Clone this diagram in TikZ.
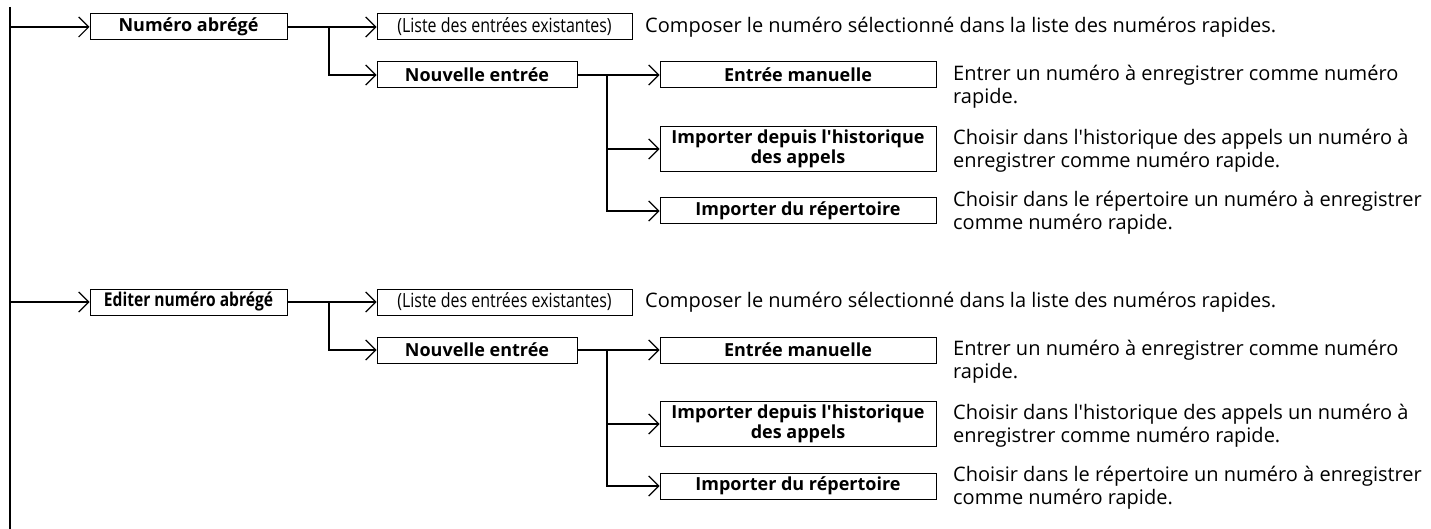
\documentclass[tikz,border=0pt]{standalone}
\usepackage{fontspec}
\setmainfont{Open Sans}
\newfontfamily\narrowfont[FakeStretch=0.82]{Open Sans}
\usetikzlibrary{arrows.meta}

\begin{document}
\begin{tikzpicture}[x=1pt, y=-1pt,
    box/.style={draw, line width=1pt, inner sep=0pt, minimum height=26pt,
                align=center, font=\fontsize{18}{20}\selectfont\bfseries},
    narrowbox/.style={box, font=\fontsize{19.5}{20}\selectfont\narrowfont},
    flow/.style={-{Straight Barb[length=10pt, width=20pt, line width=1.2pt]},
                 line width=1.8pt},
    spine/.style={line width=2.8pt},
    note/.style={anchor=west, align=left, inner sep=0pt,
                 font=\fontsize{20}{23}\selectfont},
]
    \useasboundingbox (0,0) rectangle (1431,529);

    % main line
    \coordinate (top) at (10,7);
    \coordinate (bot) at (10,529);
    \draw[spine] (top) -- (bot);

    % first menu
    \node[box, minimum width=197pt] (abr) at (188.5,27) {Numéro abrégé};
    \node[narrowbox, minimum width=255pt] (liste) at (504.5,27) {(Liste des entrées existantes)};
    \node[box, minimum width=200pt] (nouv) at (477,75) {Nouvelle entrée};
    \node[box, minimum width=276pt] (man) at (798,75) {Entrée manuelle};
    \node[box, minimum width=276pt, minimum height=45pt] (hist) at (798,149)
        {Importer depuis l\textquotesingle historique\\des appels};
    \node[box, minimum width=276pt] (rep) at (798,211) {Importer du répertoire};
    \coordinate (s1) at (329,27);
    \coordinate (s2) at (607,75);

    \draw[flow] (abr.west -| top) -- (abr);
    \draw[flow] (abr) -- (liste);
    \draw[flow] (s1) |- (nouv);
    \draw[flow] (nouv) -- (man);
    \draw[flow] (s2) |- (hist);
    \draw[flow] (s2) |- (rep);

    \node[note] (dliste) at (645,27) {Composer le numéro sélectionné dans la liste des numéros rapides.};
    \node[note] (dman) at (953,87) {Entrer un numéro à enregistrer comme numéro\\rapide.};
    \node[note] (dhist) at (953,151) {Choisir dans l\textquotesingle historique des appels un numéro à\\enregistrer comme numéro rapide.};
    \node[note] (drep) at (953,213) {Choisir dans le répertoire un numéro à enregistrer\\comme numéro rapide.};

    % second menu
    \node[box, font=\fontsize{19}{20}\selectfont\narrowfont\bfseries, minimum width=197pt]
        (edit) at (188.5,302) {Editer numéro abrégé};
    \node[narrowbox, minimum width=255pt] (liste2) at (504.5,302) {(Liste des entrées existantes)};
    \node[box, minimum width=200pt] (nouv2) at (477,350) {Nouvelle entrée};
    \node[box, minimum width=276pt] (man2) at (798,350) {Entrée manuelle};
    \node[box, minimum width=276pt, minimum height=45pt] (hist2) at (798,424)
        {Importer depuis l\textquotesingle historique\\des appels};
    \node[box, minimum width=276pt] (rep2) at (798,486) {Importer du répertoire};
    \coordinate (s3) at (329,302);
    \coordinate (s4) at (607,350);

    \draw[flow] (edit.west -| top) -- (edit);
    \draw[flow] (edit) -- (liste2);
    \draw[flow] (s3) |- (nouv2);
    \draw[flow] (nouv2) -- (man2);
    \draw[flow] (s4) |- (hist2);
    \draw[flow] (s4) |- (rep2);

    \node[note] (dliste2) at (645,302) {Composer le numéro sélectionné dans la liste des numéros rapides.};
    \node[note] (dman2) at (953,362) {Entrer un numéro à enregistrer comme numéro\\rapide.};
    \node[note] (dhist2) at (953,426) {Choisir dans l\textquotesingle historique des appels un numéro à\\enregistrer comme numéro rapide.};
    \node[note] (drep2) at (953,488) {Choisir dans le répertoire un numéro à enregistrer\\comme numéro rapide.};
\end{tikzpicture}
\end{document}
